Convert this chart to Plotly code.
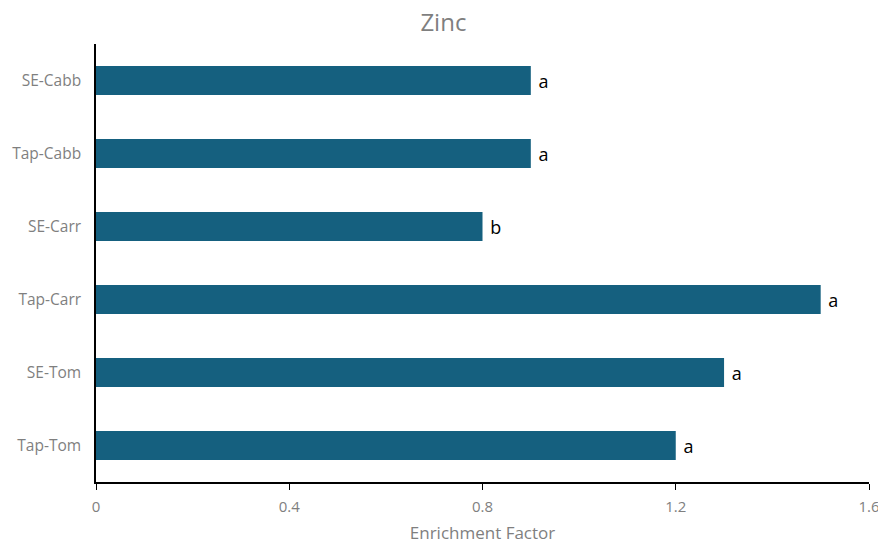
import plotly.graph_objects as go

categories = ["Tap-Tom", "SE-Tom", "Tap-Carr", "SE-Carr", "Tap-Cabb", "SE-Cabb"]
values = [1.2, 1.3, 1.5, 0.8, 0.9, 0.9]
letters = ["a", "a", "a", "b", "a", "a"]
tick_vals = [0, 0.4, 0.8, 1.2, 1.6]
tick_text = ["0", "0.4", "0.8", "1.2", "1.6"]

FONT = "Open Sans"

fig = go.Figure(go.Bar(
    y=categories, x=values, orientation="h",
    marker=dict(color="#15607F", line=dict(width=0)),
    text=[" " + t for t in letters], textposition="outside",
    textfont=dict(family=FONT, size=18, color="black"),
    cliponaxis=False,
))

fig.update_layout(
    width=878, height=544,
    margin=dict(l=96, r=9, t=44, b=62),
    paper_bgcolor="white", plot_bgcolor="white",
    bargap=0.6,
    showlegend=False,
    title=dict(text="Zinc", x=0.505, xref="container", y=0.958, yanchor="middle",
               font=dict(family=FONT, size=24, color="#7f7f7f")),
    xaxis=dict(range=[0, 1.6], tickvals=tick_vals, ticktext=tick_text,
               automargin=False, ticklabeloverflow="allow",
               showgrid=False, zeroline=False, showline=True, linecolor="black", linewidth=1.5,
               ticks="outside", ticklen=6, tickcolor="black", ticklabelstandoff=4,
               tickfont=dict(family=FONT, size=15, color="#7f7f7f"),
               title=dict(text="Enrichment Factor", standoff=16,
                          font=dict(family=FONT, size=17, color="#7f7f7f"))),
    yaxis=dict(showgrid=False, zeroline=False, showline=True, linecolor="black", linewidth=1.5,
               automargin=False,
               ticks="", ticklabelstandoff=10,
               tickfont=dict(family=FONT, size=15.5, color="#7f7f7f")),
)

fig.write_html("out.html", config={"displayModeBar": False},
               post_script="document.body.style.margin='0';")
